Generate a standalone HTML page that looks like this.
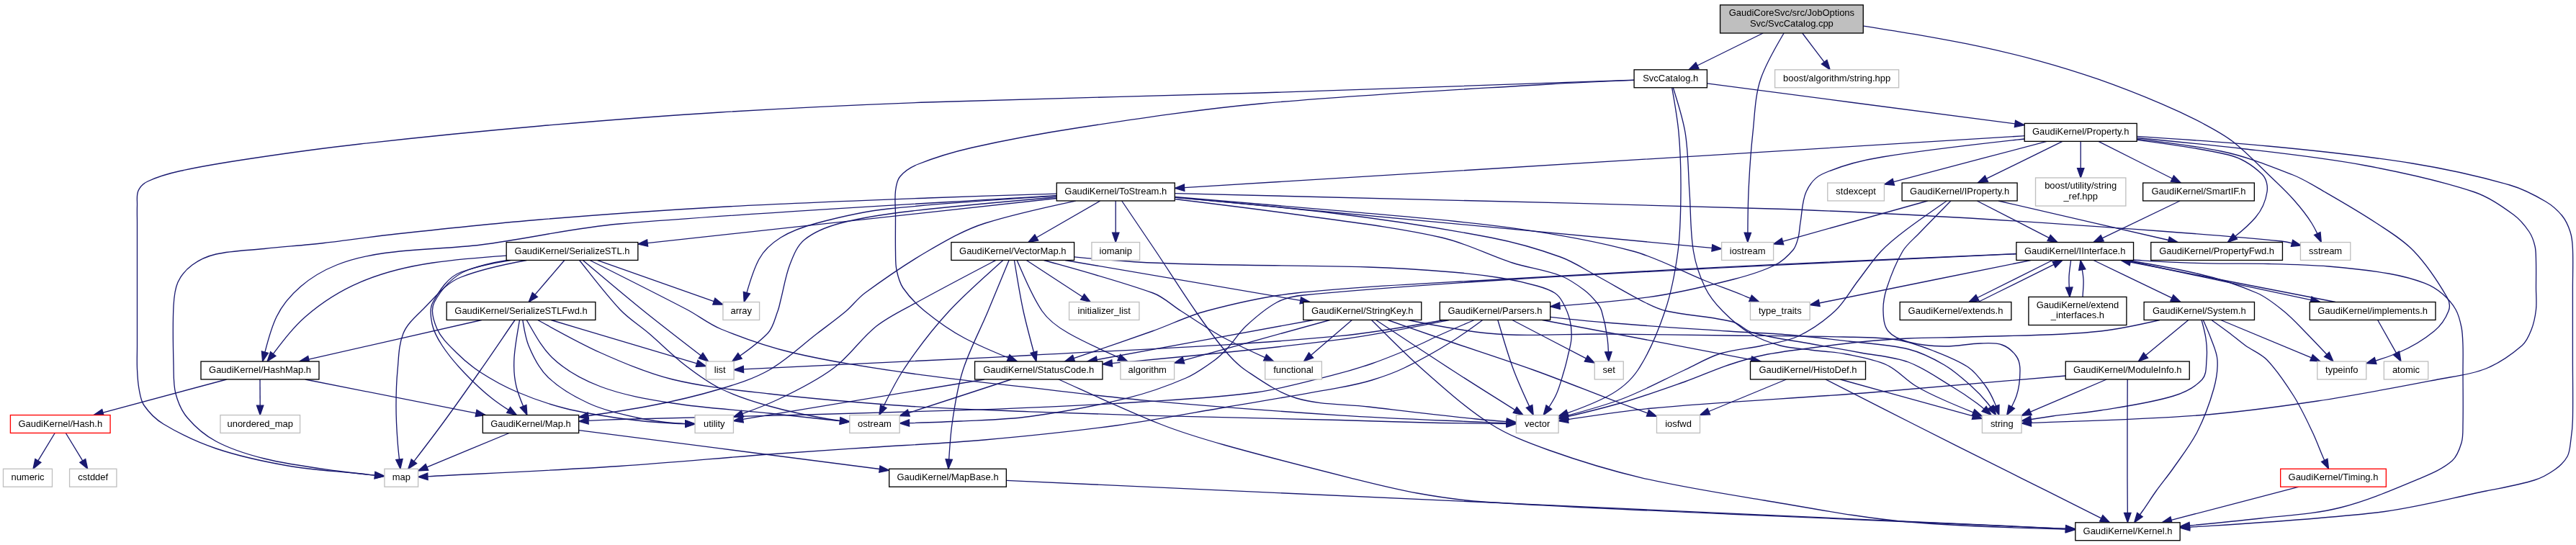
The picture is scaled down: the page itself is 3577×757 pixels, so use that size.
<!DOCTYPE html>
<html><head><meta charset="utf-8"><title>SvcCatalog.cpp include graph</title>
<style>html,body{margin:0;padding:0;background:#fff}svg{display:block;will-change:transform;transform:translateZ(0)}text{font-family:"Liberation Sans",Arial,Helvetica,sans-serif;font-size:13.33px;fill:#000;text-anchor:middle}
.e path{fill:none;stroke:#191970;stroke-width:1.33}.e polygon{fill:#191970;stroke:#191970;stroke-width:1.33}
.n rect{stroke-width:1.33}</style></head><body>
<svg width="3577" height="757" viewBox="0 0 3577 757">
<rect width="3577" height="757" fill="#fff"/>
<g class="e">
<path d="M2477.1,46.0C2465.2,66.6 2452.7,86.9 2445.0,109.3C2436.9,133.1 2436.7,158.9 2434.0,183.9C2431.0,211.3 2429.2,238.9 2428.0,266.5C2427.2,285.4 2427.0,304.3 2426.9,323.2"/>
<polygon points="2422.2,323.2 2426.8,336.5 2431.5,323.3"/>
<path d="M2587.5,36.2C2612.8,40.3 2638.2,44.0 2663.5,48.4C2691.4,53.3 2719.3,58.2 2747.0,64.2C2775.0,70.2 2802.8,76.7 2830.4,84.3C2858.5,92.0 2886.5,100.6 2914.0,110.2C2943.6,120.6 2972.8,132.1 3001.7,144.3C3021.5,152.7 3041.0,161.9 3060.0,172.0C3074.1,179.5 3088.4,187.1 3101.0,197.0C3118.9,211.1 3134.6,227.8 3151.0,243.5C3162.4,254.4 3174.1,265.2 3184.6,277.0C3193.8,287.4 3202.7,298.2 3210.0,310.0C3212.9,314.7 3215.4,319.5 3217.8,324.4"/>
<polygon points="3213.5,326.4 3223.3,336.5 3222.0,322.5"/>
<path d="M2502.7,46.0C2512.8,59.4 2523.0,72.8 2533.1,86.2"/>
<polygon points="2529.4,89.0 2541.2,96.8 2536.9,83.4"/>
<path d="M2448.2,46.0C2417.8,61.0 2387.4,76.0 2357.0,91.0"/>
<polygon points="2354.9,86.8 2345.0,96.8 2359.0,95.1"/>
<path d="M2323.3,121.8C2329.5,142.3 2336.5,162.7 2340.0,183.9C2344.5,211.1 2344.1,239.0 2346.0,266.5C2347.9,294.0 2347.0,321.8 2351.5,349.0C2354.4,366.6 2360.2,383.9 2368.0,400.0C2373.8,412.0 2382.6,422.5 2392.0,432.0C2403.5,443.7 2416.0,454.6 2430.0,463.0C2443.0,470.8 2457.4,476.0 2472.0,480.0C2485.6,483.7 2500.0,484.2 2514.0,486.0C2530.6,488.2 2547.5,488.7 2564.0,492.0C2583.0,495.8 2602.4,498.9 2620.0,507.0C2635.0,513.9 2646.0,527.4 2660.0,536.0C2672.7,543.8 2686.4,550.0 2700.0,556.0C2713.2,561.9 2726.6,567.4 2740.1,572.9"/>
<polygon points="2738.3,577.2 2752.4,577.9 2741.8,568.5"/>
<path d="M2321.7,121.8C2325.2,142.4 2329.1,163.0 2331.0,183.9C2333.5,211.3 2334.2,238.9 2334.0,266.5C2333.8,294.0 2333.6,321.7 2330.0,349.0C2326.3,377.1 2321.1,405.2 2312.0,432.0C2302.3,460.7 2290.8,489.3 2274.0,514.5C2263.9,529.5 2248.9,541.5 2233.0,550.0C2215.0,559.6 2195.9,566.8 2176.6,573.7"/>
<polygon points="2175.1,569.3 2164.1,578.1 2178.2,578.1"/>
<path d="M2269.1,111.1C2096.1,117.1 1923.0,123.5 1750.0,129.0C1596.0,133.9 1442.0,136.5 1288.0,142.0C1191.9,145.5 1095.9,150.1 1000.0,156.0C916.6,161.1 833.3,167.7 750.0,175.0C666.6,182.3 583.2,190.6 500.0,200.0C449.9,205.6 399.9,212.5 350.0,220.0C316.5,225.0 283.0,230.2 250.0,237.5C234.6,240.9 219.2,245.2 205.0,252.0C199.5,254.6 194.5,259.4 192.0,265.0C189.3,271.1 190.7,278.3 190.5,285.0C190.2,293.3 190.5,301.7 190.5,310.0C190.5,323.0 190.5,336.0 190.5,349.0C190.5,376.7 190.5,404.3 190.5,432.0C190.5,448.0 190.5,464.0 190.5,480.0C190.5,491.0 190.0,502.0 190.5,513.0C190.9,522.0 191.3,531.1 193.0,540.0C194.5,547.9 195.4,556.4 200.0,563.0C207.1,573.3 216.3,582.6 227.0,589.0C250.0,602.8 274.5,614.5 300.0,623.0C332.5,633.9 366.2,641.1 400.0,647.0C433.0,652.8 466.7,654.4 500.0,658.0C506.9,658.7 513.8,659.4 520.6,660.1"/>
<polygon points="520.2,664.8 533.9,661.4 521.1,655.5"/>
<path d="M2269.1,111.4C2229.4,113.0 2189.7,114.6 2150.0,117.0C2016.6,125.1 1883.1,131.7 1750.0,144.0C1666.3,151.7 1583.1,164.3 1500.0,177.0C1449.7,184.7 1399.6,193.8 1350.0,205.0C1324.5,210.8 1299.3,218.3 1275.0,228.0C1265.6,231.7 1256.5,237.3 1250.0,245.0C1245.5,250.3 1244.3,258.0 1243.5,265.0C1242.1,276.6 1243.5,288.3 1243.5,300.0C1243.5,316.3 1243.2,332.7 1243.5,349.0C1243.7,357.7 1243.2,366.5 1245.0,375.0C1246.8,383.7 1249.0,392.7 1254.0,400.0C1262.3,412.1 1272.7,422.8 1284.0,432.0C1301.5,446.2 1320.0,459.6 1340.0,470.0C1359.5,480.2 1379.8,488.7 1400.1,497.0"/>
<polygon points="1398.4,501.3 1412.5,502.0 1401.9,492.7"/>
<path d="M2370.4,115.9C2512.9,134.6 2655.5,153.3 2798.0,171.9"/>
<polygon points="2797.4,176.6 2811.2,173.7 2798.6,167.3"/>
<path d="M1404.2,527.0C1356.7,542.5 1309.3,558.0 1261.8,573.5"/>
<polygon points="1260.4,569.1 1249.2,577.7 1263.3,578.0"/>
<path d="M1367.0,527.0C1255.2,545.4 1143.4,563.9 1031.6,582.4"/>
<polygon points="1030.8,577.8 1018.4,584.6 1032.3,587.0"/>
<path d="M1470.1,527.0C1516.9,548.1 1563.4,569.9 1611.0,589.0C1640.0,600.6 1670.0,609.5 1700.0,618.0C1758.0,634.4 1816.5,649.1 1875.0,663.8C1905.8,671.5 1936.7,679.4 1968.0,685.0C1998.4,690.5 2029.1,694.9 2060.0,697.0C2173.2,704.6 2286.6,708.7 2400.0,714.0C2500.0,718.7 2600.0,722.6 2700.0,727.0C2756.2,729.5 2812.3,731.9 2868.5,734.4"/>
<polygon points="2868.3,739.1 2881.8,735.0 2868.7,729.8"/>
<path d="M2967.2,191.5C3017.5,196.3 3067.8,201.2 3118.0,207.0C3173.8,213.5 3229.8,219.6 3285.0,230.0C3335.6,239.5 3386.2,250.3 3435.0,266.5C3455.1,273.2 3472.9,285.6 3490.0,298.0C3498.8,304.3 3505.9,313.0 3512.0,322.0C3516.0,327.9 3518.4,335.0 3520.0,342.0C3521.6,348.8 3521.3,356.0 3521.5,363.0C3521.8,375.3 3521.5,387.7 3521.5,400.0C3521.5,410.0 3522.6,420.1 3521.5,430.0C3520.4,439.5 3518.5,449.1 3515.0,458.0C3511.9,465.9 3508.5,474.5 3502.0,480.0C3487.0,492.9 3470.4,504.6 3452.0,512.0C3430.8,520.5 3407.5,522.7 3385.0,527.0C3329.5,537.7 3273.9,548.6 3218.0,557.0C3162.6,565.3 3106.9,572.9 3051.0,577.0C2974.3,582.6 2897.3,584.5 2820.4,587.4"/>
<polygon points="2820.2,582.7 2807.1,587.9 2820.6,592.0"/>
<path d="M2967.2,189.3C3028.2,193.3 3089.2,197.3 3150.0,203.0C3216.9,209.3 3283.7,216.3 3350.0,227.0C3395.5,234.3 3440.7,244.3 3485.0,257.0C3502.6,262.1 3519.2,270.7 3535.0,280.0C3543.8,285.2 3551.6,292.1 3558.0,300.0C3563.2,306.4 3566.5,314.2 3569.0,322.0C3571.4,329.4 3572.1,337.3 3572.4,345.0C3573.2,363.3 3572.4,381.7 3572.4,400.0C3572.4,433.3 3572.4,466.7 3572.4,500.0C3572.4,527.7 3573.0,555.3 3572.4,583.0C3572.2,592.0 3571.3,601.1 3570.0,610.0C3568.8,618.1 3568.8,626.8 3565.0,634.0C3561.2,641.3 3554.7,647.2 3548.0,652.0C3539.2,658.3 3529.4,663.8 3519.0,667.0C3497.2,673.8 3474.4,677.4 3452.0,682.0C3401.4,692.4 3351.3,706.2 3300.0,712.0C3213.8,721.7 3127.1,726.7 3040.5,732.3"/>
<polygon points="3040.2,727.7 3027.2,733.2 3040.8,737.0"/>
<path d="M2842.2,196.4C2771.2,215.1 2700.3,233.9 2629.3,252.7"/>
<polygon points="2628.1,248.2 2616.4,256.1 2630.5,257.2"/>
<path d="M2967.2,193.1C3006.3,197.5 3045.4,202.3 3084.0,210.0C3118.4,216.9 3151.3,230.2 3184.0,243.0C3199.5,249.1 3213.6,258.2 3228.0,266.5C3252.3,280.5 3276.7,294.5 3300.0,310.0C3318.0,322.0 3337.1,333.3 3352.0,349.0C3370.1,368.0 3384.8,390.3 3398.0,413.0C3401.2,418.5 3402.3,426.1 3400.0,432.0C3395.9,442.7 3388.8,452.7 3380.0,460.0C3365.0,472.4 3347.9,482.4 3330.0,490.0C3319.8,494.3 3309.2,497.9 3298.6,501.1"/>
<polygon points="3297.3,496.6 3285.8,504.7 3299.9,505.5"/>
<path d="M2967.2,194.3C3009.8,199.7 3052.3,205.4 3094.0,215.0C3111.6,219.1 3127.9,229.5 3141.0,242.0C3147.1,247.9 3149.3,258.1 3148.0,266.5C3146.1,279.3 3140.4,292.1 3132.0,302.0C3123.7,311.8 3113.8,320.2 3103.7,328.3"/>
<polygon points="3100.8,324.6 3093.3,336.5 3106.6,331.9"/>
<path d="M2811.2,193.0C2745.3,200.3 2679.4,207.4 2614.0,218.0C2585.3,222.6 2556.5,229.9 2530.0,242.0C2520.0,246.6 2512.5,256.5 2508.0,266.5C2502.1,279.7 2502.5,294.8 2500.0,309.0C2498.8,316.0 2498.8,323.2 2497.0,330.0C2495.4,335.9 2493.9,342.3 2490.0,347.0C2483.0,355.3 2474.8,363.2 2465.0,368.0C2446.7,377.1 2426.8,382.9 2407.0,388.0C2368.4,397.8 2329.5,407.3 2290.0,412.6C2248.8,418.1 2207.4,421.6 2166.0,424.8"/>
<polygon points="2165.6,420.1 2152.7,425.8 2166.3,429.4"/>
<path d="M2811.2,188.7C2422.3,212.7 2033.4,236.7 1644.6,260.6"/>
<polygon points="1644.3,256.0 1631.3,261.4 1644.8,265.3"/>
<path d="M2913.9,196.4C2948.1,213.6 2982.2,230.8 3016.4,248.0"/>
<polygon points="3014.3,252.2 3028.3,254.0 3018.5,243.9"/>
<path d="M2863.9,196.4C2828.7,213.6 2793.6,230.9 2758.4,248.2"/>
<polygon points="2756.3,244.0 2746.4,254.0 2760.5,252.4"/>
<path d="M2889.2,196.4C2889.2,208.8 2889.2,221.2 2889.2,233.6"/>
<polygon points="2884.5,233.6 2889.2,246.9 2893.9,233.6"/>
<path d="M2152.7,440.3C2178.4,443.1 2204.2,445.8 2230.0,448.0C2286.6,452.9 2343.3,456.2 2400.0,460.0C2427.7,461.9 2455.4,462.7 2483.0,465.0C2511.1,467.4 2539.0,470.7 2567.0,474.0C2594.7,477.3 2622.9,478.3 2650.0,485.0C2667.7,489.4 2684.3,497.8 2700.0,507.0C2713.5,514.9 2725.3,525.6 2737.0,536.0C2745.3,543.3 2753.0,551.4 2760.0,560.0C2761.4,561.8 2762.8,563.6 2764.2,565.5"/>
<polygon points="2760.3,568.1 2771.6,576.5 2768.0,562.9"/>
<path d="M2079.8,444.5C2086.9,467.9 2093.4,491.6 2102.0,514.5C2108.4,531.5 2116.0,548.0 2123.6,564.4"/>
<polygon points="2119.3,566.4 2129.2,576.5 2127.8,562.5"/>
<path d="M2058.7,444.5C2044.4,455.0 2030.1,465.6 2015.0,475.0C1994.0,488.2 1972.3,500.2 1950.0,511.0C1935.6,518.0 1920.3,523.3 1905.0,528.0C1890.3,532.5 1875.1,535.6 1860.0,538.4C1808.6,547.9 1757.0,556.3 1705.5,565.0C1653.7,573.8 1602.1,583.9 1550.0,591.0C1489.2,599.3 1428.1,605.6 1367.0,611.0C1311.4,615.9 1255.7,618.3 1200.0,622.0C1156.0,624.9 1112.0,627.7 1068.0,631.0C998.6,636.2 929.4,643.0 860.0,647.5C771.4,653.2 682.6,657.2 593.9,661.8"/>
<polygon points="593.7,657.2 580.6,662.5 594.1,666.5"/>
<path d="M2012.2,444.5C1961.6,454.6 1911.1,465.0 1860.0,471.7C1755.0,485.4 1649.6,494.7 1544.2,504.6"/>
<polygon points="1543.8,499.9 1530.9,505.8 1544.6,509.2"/>
<path d="M2005.0,444.5C1956.8,453.2 1908.7,462.1 1860.0,466.7C1717.0,480.3 1573.4,485.5 1430.0,493.5C1297.5,500.9 1164.9,506.6 1032.4,512.9"/>
<polygon points="1032.2,508.3 1019.1,513.6 1032.6,517.6"/>
<path d="M2099.9,444.5C2134.1,462.3 2168.2,480.1 2202.4,497.9"/>
<polygon points="2200.3,502.0 2214.2,504.1 2204.6,493.8"/>
<path d="M2141.6,444.5C2238.3,462.8 2335.1,481.2 2431.8,499.6"/>
<polygon points="2431.0,504.1 2444.9,502.0 2432.7,495.0"/>
<path d="M2047.2,444.5C2031.4,451.2 2015.7,458.0 2000.0,465.0C1989.2,469.8 1978.9,475.4 1968.0,480.0C1947.2,488.8 1926.3,497.6 1905.0,505.0C1886.5,511.4 1867.6,516.9 1848.6,521.6C1814.1,530.2 1779.7,540.1 1744.5,545.0C1692.8,552.2 1640.5,554.7 1588.4,558.0C1519.0,562.5 1449.5,565.7 1380.0,568.4C1293.4,571.7 1206.7,573.6 1120.0,576.0C1033.3,578.3 946.6,579.6 860.0,582.5C845.7,583.0 831.3,583.7 817.0,584.4"/>
<polygon points="816.7,579.8 803.7,585.2 817.2,589.1"/>
<path d="M2555.5,527.0C2616.9,543.9 2678.2,560.9 2739.6,577.9"/>
<polygon points="2738.3,582.4 2752.4,581.4 2740.8,573.4"/>
<path d="M2535.0,527.0C2575.6,547.7 2616.3,568.4 2657.0,589.0C2706.6,614.1 2756.3,638.8 2806.0,663.8C2843.3,682.4 2880.5,701.1 2917.8,719.8"/>
<polygon points="2915.7,724.0 2929.7,725.8 2919.9,715.6"/>
<path d="M2480.4,527.0C2444.6,541.8 2408.7,556.6 2372.8,571.5"/>
<polygon points="2371.0,567.2 2360.5,576.6 2374.6,575.8"/>
<path d="M707.1,601.5C669.0,617.3 631.0,633.1 592.9,648.9"/>
<polygon points="591.1,644.6 580.6,654.0 594.7,653.2"/>
<path d="M803.7,597.6C942.9,615.6 1082.2,633.6 1221.4,651.5"/>
<polygon points="1220.8,656.2 1234.7,653.2 1222.0,646.9"/>
<path d="M1397.3,667.4C1887.7,689.7 2378.1,712.0 2868.5,734.3"/>
<polygon points="2868.3,739.0 2881.8,734.9 2868.7,729.7"/>
<path d="M1631.3,274.2C1879.9,297.6 2128.6,321.0 2377.3,344.4"/>
<polygon points="2376.9,349.0 2390.6,345.6 2377.8,339.7"/>
<path d="M1631.3,268.6C1907.5,275.5 2183.8,281.6 2460.0,290.0C2545.7,292.6 2631.4,297.1 2717.0,302.0C2811.4,307.4 2905.7,314.1 3000.0,321.0C3056.0,325.1 3112.1,329.3 3168.0,335.0C3172.9,335.5 3177.7,336.6 3182.6,337.8"/>
<polygon points="3181.4,342.3 3195.5,341.0 3183.7,333.3"/>
<path d="M1631.3,274.2C1704.2,280.8 1777.3,287.1 1850.0,296.0C1923.7,305.0 1997.1,316.0 2070.0,330.0C2103.0,336.3 2135.4,345.6 2167.0,357.0C2184.7,363.4 2200.5,374.1 2217.0,383.0C2239.5,395.1 2261.2,408.5 2284.0,420.0C2293.6,424.9 2303.5,429.7 2314.0,432.0C2344.3,438.7 2375.9,439.4 2406.0,447.0C2416.0,449.5 2423.1,459.2 2433.0,462.0C2460.5,469.7 2489.0,472.8 2517.0,478.0C2539.3,482.1 2561.7,485.8 2584.0,490.0C2606.0,494.1 2629.0,495.3 2650.0,503.0C2671.1,510.8 2689.7,524.4 2709.0,536.0C2721.4,543.4 2733.5,551.4 2745.0,560.0C2748.4,562.6 2751.8,565.2 2755.0,567.9"/>
<polygon points="2752.0,571.5 2765.2,576.5 2758.1,564.4"/>
<path d="M1557.7,279.0C1573.5,302.3 1589.3,325.6 1605.0,349.0C1623.5,376.6 1641.0,404.8 1660.0,432.0C1673.1,450.8 1686.2,469.6 1701.0,487.0C1709.6,497.2 1718.9,507.1 1730.0,514.5C1752.2,529.3 1774.5,545.4 1800.0,553.0C1832.2,562.6 1866.7,561.1 1900.0,565.0C1950.0,570.8 1999.9,576.9 2050.0,582.0C2064.0,583.4 2078.1,584.6 2092.1,585.7"/>
<polygon points="2091.8,590.3 2105.4,586.7 2092.5,581.0"/>
<path d="M1467.2,269.1C1407.5,270.9 1347.7,272.7 1288.0,275.0C1192.0,278.7 1095.9,282.2 1000.0,287.5C916.6,292.2 833.2,298.1 750.0,305.0C683.2,310.6 616.6,317.8 550.0,325.0C516.6,328.6 483.4,333.8 450.0,337.5C422.4,340.6 394.6,342.6 367.0,345.5C344.6,347.8 321.9,348.1 300.0,353.0C288.2,355.7 276.7,360.8 267.0,368.0C258.6,374.2 251.3,382.5 247.0,392.0C242.4,402.2 241.6,413.8 241.0,425.0C239.6,452.3 240.3,479.7 241.0,507.0C241.3,520.4 240.6,534.1 244.0,547.0C247.1,558.8 252.1,570.7 260.0,580.0C271.2,593.2 284.7,604.9 300.0,613.0C320.9,624.2 344.0,631.3 367.0,637.0C399.8,645.1 433.5,649.3 467.0,654.0C484.8,656.5 502.7,658.3 520.6,660.1"/>
<polygon points="520.2,664.7 533.9,661.4 521.1,655.4"/>
<path d="M1467.2,273.9C1400.4,279.7 1333.6,285.4 1267.0,293.0C1233.4,296.8 1199.7,301.3 1167.0,310.0C1149.3,314.7 1131.2,321.4 1117.0,333.0C1106.8,341.3 1101.8,354.8 1097.0,367.0C1090.7,383.0 1088.4,400.3 1084.0,417.0C1082.7,422.0 1081.9,427.2 1080.0,432.0C1075.9,442.6 1073.9,454.9 1066.0,463.0C1054.5,474.9 1041.1,484.7 1027.5,494.3"/>
<polygon points="1024.8,490.5 1016.6,502.0 1030.2,498.2"/>
<path d="M1631.3,276.5C1687.5,283.3 1743.8,290.1 1800.0,298.0C1867.5,307.5 1935.5,315.1 2002.0,330.0C2035.9,337.6 2067.0,354.4 2100.0,365.0C2122.0,372.1 2145.4,374.8 2167.0,383.0C2179.0,387.6 2189.7,395.3 2200.0,403.0C2206.4,407.8 2211.9,413.8 2217.0,420.0C2220.0,423.6 2222.7,427.6 2224.0,432.0C2227.7,444.4 2230.4,457.2 2232.0,470.0C2232.8,476.2 2233.2,482.5 2233.4,488.7"/>
<polygon points="2228.7,488.9 2233.8,502.0 2238.1,488.6"/>
<path d="M1493.7,279.0C1451.5,288.1 1409.2,297.0 1368.0,310.0C1339.7,318.9 1313.7,334.1 1288.0,349.0C1257.9,366.5 1229.1,386.4 1201.0,407.0C1191.3,414.1 1184.2,424.2 1175.0,432.0C1162.1,442.9 1148.4,452.7 1135.0,463.0C1112.7,480.1 1092.3,500.0 1068.0,514.0C1047.2,525.9 1023.9,533.1 1001.0,540.0C968.2,549.8 934.7,557.7 901.0,564.0C873.1,569.2 845.0,573.4 816.9,577.5"/>
<polygon points="816.2,572.9 803.7,579.4 817.5,582.1"/>
<path d="M1549.2,279.0C1549.2,293.7 1549.2,308.5 1549.2,323.2"/>
<polygon points="1544.6,323.2 1549.2,336.5 1553.9,323.2"/>
<path d="M1467.2,272.1C1389.4,277.2 1311.6,281.9 1234.0,290.0C1200.2,293.5 1166.8,301.2 1134.0,310.0C1116.7,314.6 1099.2,320.5 1084.0,330.0C1072.0,337.5 1060.7,347.5 1054.0,360.0C1046.1,374.6 1041.5,390.7 1036.9,406.7"/>
<polygon points="1032.4,405.4 1033.2,419.5 1041.4,408.0"/>
<path d="M1631.3,273.3C1709.9,279.8 1788.5,286.2 1867.0,293.4C1945.1,300.5 2023.4,306.0 2101.0,316.8C2157.2,324.6 2213.3,334.0 2268.0,349.0C2302.7,358.5 2334.6,376.6 2368.0,390.0C2385.2,396.9 2402.8,403.0 2420.0,410.0C2423.5,411.4 2427.0,412.9 2430.6,414.3"/>
<polygon points="2428.7,418.6 2442.8,419.5 2432.4,410.0"/>
<path d="M1467.2,271.6C1264.8,284.0 1062.1,294.1 860.0,311.0C795.5,316.4 732.2,332.0 668.0,340.0C623.5,345.5 578.4,345.3 534.0,351.5C511.4,354.7 488.8,359.5 467.6,368.0C449.5,375.2 432.2,385.3 417.5,398.0C403.9,409.7 391.8,423.9 384.0,440.0C376.5,455.5 372.2,472.3 367.9,489.1"/>
<polygon points="363.4,488.0 364.6,502.0 372.4,490.3"/>
<path d="M1527.7,279.0C1498.2,295.9 1468.8,312.9 1439.4,329.9"/>
<polygon points="1437.0,325.8 1427.8,336.5 1441.7,333.9"/>
<path d="M1467.2,275.5C1277.9,296.2 1088.5,316.9 899.1,337.6"/>
<polygon points="898.6,332.9 885.8,339.0 899.6,342.2"/>
<path d="M423.8,527.0C502.9,542.6 582.0,558.3 661.1,574.0"/>
<polygon points="660.2,578.5 674.2,576.5 662.0,569.4"/>
<path d="M314.7,527.0C257.4,542.3 200.2,557.7 143.0,573.1"/>
<polygon points="141.7,568.6 130.1,576.5 144.2,577.6"/>
<path d="M361.0,527.0C361.1,539.0 361.1,551.1 361.2,563.2"/>
<polygon points="356.5,563.2 361.2,576.5 365.8,563.2"/>
<path d="M91.3,601.5C99.1,614.3 106.9,627.1 114.7,639.9"/>
<polygon points="110.8,642.3 121.7,651.3 118.7,637.5"/>
<path d="M76.2,601.5C68.5,614.3 60.7,627.1 52.9,639.9"/>
<polygon points="48.9,637.5 46.0,651.3 56.9,642.3"/>
<path d="M1491.6,356.8C1527.7,360.2 1563.8,363.4 1600.0,365.0C1699.9,369.5 1800.0,367.9 1900.0,371.0C1939.1,372.2 1978.1,374.8 2017.0,378.0C2039.4,379.8 2061.8,382.4 2084.0,386.0C2100.8,388.7 2117.6,392.4 2134.0,397.0C2142.6,399.4 2151.4,402.2 2159.0,407.0C2163.8,410.1 2167.3,415.0 2170.0,420.0C2174.3,427.9 2177.9,436.3 2180.0,445.0C2182.0,453.1 2182.5,461.7 2182.0,470.0C2181.5,478.5 2178.9,486.7 2177.0,495.0C2175.5,501.5 2174.0,508.1 2172.0,514.5C2168.3,526.4 2165.6,538.8 2160.0,550.0C2157.3,555.4 2154.1,560.5 2150.8,565.6"/>
<polygon points="2147.0,562.9 2143.2,576.5 2154.7,568.2"/>
<path d="M1408.4,361.5C1412.4,385.0 1415.9,408.7 1421.0,432.0C1425.2,451.2 1430.4,470.2 1435.5,489.2"/>
<polygon points="1431.0,490.4 1439.0,502.0 1440.0,488.0"/>
<path d="M1392.8,361.5C1367.4,384.5 1341.2,406.8 1318.0,432.0C1294.4,457.6 1273.2,485.4 1254.0,514.5C1243.5,530.4 1235.2,547.5 1226.8,564.6"/>
<polygon points="1222.6,562.5 1220.9,576.5 1231.0,566.7"/>
<path d="M1382.8,361.5C1346.1,380.8 1309.3,400.0 1273.0,420.0C1254.0,430.4 1234.0,439.6 1217.0,453.0C1195.4,470.1 1180.1,494.5 1158.0,511.0C1134.1,528.8 1107.0,542.3 1080.0,555.0C1064.0,562.5 1047.6,568.7 1031.0,574.7"/>
<polygon points="1029.4,570.3 1018.4,579.2 1032.5,579.1"/>
<path d="M1401.1,361.5C1391.4,385.0 1381.8,408.5 1372.0,432.0C1360.5,459.6 1346.1,486.0 1337.0,514.5C1329.3,538.6 1325.5,563.9 1322.0,589.0C1319.7,605.2 1318.7,621.6 1317.7,638.0"/>
<polygon points="1313.1,637.7 1316.9,651.3 1322.4,638.3"/>
<path d="M1449.5,361.5C1500.3,375.7 1551.3,389.3 1601.0,407.0C1615.6,412.2 1626.9,423.8 1640.0,432.0C1660.3,444.8 1679.8,458.8 1701.0,470.0C1719.2,479.6 1737.8,488.2 1756.6,496.6"/>
<polygon points="1754.6,500.8 1768.7,502.0 1758.5,492.3"/>
<path d="M1412.1,361.5C1422.9,385.4 1432.2,410.3 1447.0,432.0C1456.1,445.3 1470.0,455.1 1484.0,463.0C1506.5,475.7 1530.1,486.2 1553.7,496.7"/>
<polygon points="1551.8,500.9 1565.9,502.0 1555.6,492.4"/>
<path d="M1425.3,361.5C1451.2,378.4 1477.1,395.3 1503.0,412.3"/>
<polygon points="1500.5,416.2 1514.2,419.5 1505.6,408.3"/>
<path d="M1479.1,361.5C1588.0,380.1 1696.9,398.7 1805.8,417.3"/>
<polygon points="1805.0,421.9 1818.9,419.5 1806.6,412.7"/>
<path d="M1955.2,444.5C1992.3,452.0 2029.4,459.4 2067.0,463.0C2121.1,468.1 2175.7,463.5 2230.0,464.0C2286.7,464.5 2343.3,465.3 2400.0,466.0C2453.3,466.6 2506.7,466.6 2560.0,468.0C2584.7,468.6 2609.6,468.3 2634.0,472.0C2651.2,474.6 2667.8,480.8 2684.0,487.0C2700.8,493.5 2718.0,499.9 2733.0,510.0C2742.8,516.6 2750.0,526.5 2757.0,536.0C2762.4,543.3 2766.4,551.6 2770.0,560.0C2770.6,561.3 2771.1,562.6 2771.6,563.9"/>
<polygon points="2767.2,565.4 2775.8,576.5 2776.0,562.4"/>
<path d="M1910.6,444.5C1946.0,467.9 1981.3,491.5 2017.0,514.5C2045.7,533.1 2074.8,551.2 2103.7,569.5"/>
<polygon points="2101.2,573.4 2115.0,576.5 2106.2,565.5"/>
<path d="M1823.9,444.5C1723.7,462.8 1623.4,481.2 1523.2,499.6"/>
<polygon points="1522.4,495.1 1510.1,502.0 1524.0,504.2"/>
<path d="M1904.5,444.5C1928.4,468.1 1951.8,492.3 1977.0,514.5C2006.8,540.8 2036.5,567.6 2070.0,589.0C2094.6,604.7 2122.5,615.2 2150.0,625.0C2192.6,640.2 2236.0,653.5 2280.0,663.8C2336.1,676.8 2393.2,685.6 2450.0,695.0C2516.5,706.0 2582.8,719.2 2650.0,725.0C2722.7,731.2 2795.6,733.1 2868.5,735.2"/>
<polygon points="2868.4,739.9 2881.8,735.6 2868.6,730.6"/>
<path d="M1927.1,444.5C1951.4,453.0 1975.7,461.6 2000.0,470.0C2043.6,485.0 2087.6,498.9 2131.0,514.5C2171.0,528.9 2210.2,545.1 2250.0,560.0C2262.6,564.7 2275.3,569.3 2287.9,573.8"/>
<polygon points="2286.4,578.2 2300.5,578.3 2289.5,569.4"/>
<path d="M1877.3,444.5C1858.4,460.7 1839.5,477.0 1820.6,493.3"/>
<polygon points="1817.5,489.8 1810.4,502.0 1823.6,496.9"/>
<path d="M1846.7,444.5C1778.9,463.2 1711.2,481.9 1643.4,500.6"/>
<polygon points="1642.2,496.1 1630.6,504.2 1644.7,505.1"/>
<path d="M819.1,361.5C864.1,384.2 909.3,406.6 954.0,430.0C970.0,438.4 984.3,450.2 1001.0,457.0C1033.5,470.3 1066.8,482.0 1101.0,490.0C1153.4,502.3 1206.8,510.2 1260.0,518.0C1316.5,526.3 1373.3,531.9 1430.0,538.4C1485.6,544.8 1541.2,551.8 1597.0,556.8C1684.6,564.6 1772.3,571.1 1860.0,576.8C1923.3,580.9 1986.7,583.2 2050.0,586.0C2064.0,586.6 2078.1,587.1 2092.1,587.6"/>
<polygon points="2091.9,592.3 2105.4,588.0 2092.2,582.9"/>
<path d="M731.3,361.5C700.3,367.2 669.3,373.5 640.0,385.0C618.4,393.4 603.6,413.8 587.0,430.0C576.8,439.9 565.4,449.9 560.0,463.0C553.4,479.1 553.7,497.2 552.0,514.5C550.4,530.9 550.0,547.5 550.0,564.0C550.0,580.0 550.8,596.0 552.0,612.0C552.6,620.7 553.5,629.4 554.5,638.0"/>
<polygon points="549.8,638.6 555.9,651.3 559.1,637.5"/>
<path d="M804.6,361.5C823.0,384.6 840.8,408.4 861.0,430.0C872.8,442.6 887.9,451.8 901.0,463.0C917.9,477.4 933.4,493.5 951.0,507.0C966.8,519.2 983.0,531.3 1001.0,540.0C1022.3,550.4 1045.2,557.6 1068.0,564.0C1094.9,571.6 1122.4,577.3 1150.0,582.0C1155.5,582.9 1161.0,583.7 1166.6,584.4"/>
<polygon points="1166.1,589.0 1179.8,585.8 1167.1,579.7"/>
<path d="M704.0,361.5C685.6,364.5 667.5,368.5 650.0,375.0C629.7,382.5 613.1,400.8 603.0,420.0C597.2,431.0 602.0,445.7 607.0,457.0C612.8,470.0 624.0,480.0 634.0,490.0C644.0,500.0 655.1,509.2 667.0,517.0C682.9,527.3 699.6,536.6 717.0,544.0C738.7,553.3 761.1,561.2 784.0,567.0C811.6,573.9 839.8,578.1 868.0,582.0C889.9,585.1 911.9,586.8 934.0,588.0C939.9,588.3 945.8,588.5 951.8,588.6"/>
<polygon points="951.7,593.3 965.1,588.8 951.8,584.0"/>
<path d="M809.4,361.5C837.5,385.1 865.4,408.9 894.0,432.0C920.1,453.0 946.7,473.4 973.2,493.9"/>
<polygon points="970.3,497.6 983.7,502.0 976.0,490.2"/>
<path d="M709.1,361.5C685.5,365.1 662.3,369.8 640.0,378.0C622.1,384.6 610.3,403.3 601.0,420.0C596.1,428.7 597.9,440.2 600.0,450.0C602.3,460.8 607.9,470.8 614.0,480.0C622.7,493.3 633.1,505.5 644.0,517.0C656.5,530.2 669.6,542.9 684.0,554.0C691.1,559.5 698.6,564.6 706.1,569.4"/>
<polygon points="703.7,573.4 717.4,576.5 708.6,565.5"/>
<path d="M829.7,361.5C883.6,380.5 937.5,399.5 991.3,418.6"/>
<polygon points="989.8,423.0 1003.9,423.0 992.9,414.2"/>
<path d="M703.2,355.1C669.0,357.4 634.9,360.1 601.0,365.0C566.9,370.0 532.8,378.1 501.0,391.6C473.1,403.4 446.8,420.0 424.0,440.0C406.9,455.0 393.2,473.3 379.3,491.5"/>
<polygon points="375.6,488.6 371.1,502.0 382.9,494.4"/>
<path d="M783.8,361.5C770.2,377.4 756.5,393.4 742.8,409.4"/>
<polygon points="739.3,406.4 734.2,419.5 746.4,412.5"/>
<path d="M746.7,444.5C775.5,460.2 804.1,476.5 834.0,490.0C866.4,504.6 899.5,518.6 934.0,527.0C977.9,537.7 1023.1,541.9 1068.0,547.0C1131.8,554.2 1195.9,559.6 1260.0,564.0C1316.6,567.9 1373.3,569.5 1430.0,571.8C1480.0,573.8 1530.0,575.4 1580.0,576.8C1673.3,579.3 1766.7,581.1 1860.0,583.5C1906.7,584.7 1953.3,586.6 2000.0,587.5C2030.7,588.1 2061.4,588.4 2092.1,588.6"/>
<polygon points="2092.0,593.3 2105.4,588.7 2092.1,583.9"/>
<path d="M715.0,444.5C699.0,467.8 683.2,491.3 667.0,514.5C649.6,539.5 632.1,564.4 614.0,589.0C601.2,606.4 588.0,623.6 574.9,640.7"/>
<polygon points="571.2,637.9 566.7,651.3 578.6,643.6"/>
<path d="M731.2,444.5C742.1,462.9 751.6,482.4 767.0,497.0C785.9,514.9 809.7,527.8 834.0,537.0C866.0,549.1 900.2,554.7 934.0,560.0C978.4,567.0 1023.3,569.2 1068.0,574.0C1095.3,576.9 1122.6,580.2 1150.0,583.0C1155.5,583.6 1161.0,584.1 1166.6,584.6"/>
<polygon points="1166.1,589.3 1179.8,585.9 1167.0,580.0"/>
<path d="M725.8,444.5C727.8,456.5 729.4,468.7 734.0,480.0C740.5,495.9 748.6,512.1 761.0,524.0C777.0,539.4 796.8,550.8 817.0,560.0C838.2,569.7 861.3,574.8 884.0,580.0C902.4,584.2 921.2,586.4 940.0,588.0C943.9,588.3 947.8,588.5 951.8,588.7"/>
<polygon points="951.7,593.3 965.1,588.9 951.8,584.0"/>
<path d="M765.2,444.5C832.7,464.6 900.2,484.8 967.6,504.9"/>
<polygon points="966.3,509.4 980.4,508.7 969.0,500.4"/>
<path d="M721.5,444.5C718.6,461.9 715.1,479.3 714.0,497.0C713.2,510.3 713.8,524.0 717.0,537.0C719.3,546.4 722.9,555.4 726.6,564.3"/>
<polygon points="722.3,566.1 731.9,576.5 730.9,562.5"/>
<path d="M668.8,444.5C588.8,462.7 508.7,480.9 428.7,499.1"/>
<polygon points="427.7,494.5 415.7,502.0 429.7,503.6"/>
<path d="M3027.1,279.0C2991.1,296.2 2955.1,313.5 2919.1,330.8"/>
<polygon points="2917.1,326.6 2907.1,336.5 2921.2,335.0"/>
<path d="M2799.9,352.5C2686.6,357.4 2573.3,362.1 2460.0,367.6C2340.3,373.4 2220.6,379.9 2101.0,387.0C2000.6,393.0 1900.0,396.4 1800.0,407.0C1757.7,411.5 1716.1,421.1 1675.0,432.0C1649.2,438.8 1625.2,451.1 1600.0,460.0C1563.8,472.8 1527.4,485.3 1491.1,497.7"/>
<polygon points="1489.6,493.3 1478.5,502.0 1492.6,502.1"/>
<path d="M2799.9,352.7C2686.6,357.9 2573.3,362.9 2460.0,368.6C2340.3,374.6 2220.6,380.4 2101.0,388.0C2003.9,394.2 1906.8,400.6 1810.0,410.0C1797.3,411.2 1784.3,414.0 1773.0,420.0C1757.1,428.6 1743.3,440.7 1730.0,453.0C1720.5,461.8 1713.8,473.4 1705.0,483.0C1699.4,489.1 1693.7,495.2 1687.0,500.0C1674.3,509.2 1661.4,518.8 1647.0,525.0C1620.0,536.7 1592.1,546.4 1563.6,553.4C1519.6,564.2 1474.9,572.3 1430.0,578.5C1398.2,582.9 1366.0,583.4 1334.0,585.0C1310.2,586.2 1286.3,586.9 1262.5,587.6"/>
<polygon points="1262.4,582.9 1249.2,587.9 1262.6,592.2"/>
<path d="M2962.5,361.0C2975.0,361.8 2987.5,362.8 3000.0,363.4C3022.3,364.4 3044.7,365.4 3067.0,365.9C3094.7,366.5 3122.3,365.8 3150.0,366.5C3177.8,367.2 3205.7,367.8 3233.5,370.0C3261.4,372.3 3289.4,375.2 3317.0,380.0C3334.0,383.0 3350.9,387.3 3367.0,393.4C3376.1,396.9 3384.6,402.2 3392.0,408.5C3399.1,414.6 3405.4,421.8 3410.0,430.0C3414.3,437.6 3416.3,446.4 3418.0,455.0C3419.6,463.2 3419.7,471.6 3420.0,480.0C3420.4,491.5 3420.0,503.0 3420.0,514.5C3420.0,539.3 3420.5,564.2 3420.0,589.0C3419.8,597.7 3420.5,606.7 3418.0,615.0C3415.3,624.0 3412.1,633.8 3405.0,640.0C3392.6,650.8 3377.1,657.4 3362.0,663.8C3325.3,679.1 3288.6,695.3 3250.0,705.0C3213.8,714.1 3176.1,715.8 3139.0,720.0C3106.2,723.7 3073.3,726.9 3040.4,730.0"/>
<polygon points="3040.0,725.4 3027.2,731.3 3040.9,734.7"/>
<path d="M2953.9,361.5C2986.4,366.9 3018.9,372.6 3051.0,380.0C3079.4,386.5 3107.3,395.4 3134.0,407.0C3147.7,412.9 3159.4,422.7 3171.0,432.0C3181.5,440.4 3190.6,450.4 3200.0,460.0C3210.4,470.6 3220.7,481.5 3230.9,492.3"/>
<polygon points="3227.5,495.5 3240.0,502.0 3234.3,489.1"/>
<path d="M2819.8,361.5C2721.9,381.3 2624.1,401.1 2526.2,421.0"/>
<polygon points="2525.3,416.4 2513.1,423.6 2527.1,425.5"/>
<path d="M2907.1,361.5C2943.4,378.9 2979.6,396.3 3015.9,413.8"/>
<polygon points="3013.9,418.0 3027.9,419.5 3017.9,409.6"/>
<path d="M2875.6,361.5C2874.7,369.3 2873.2,377.1 2873.0,385.0C2872.9,389.7 2873.0,394.5 2873.3,399.2"/>
<polygon points="2868.6,399.4 2874.0,412.5 2878.0,398.9"/>
<path d="M2950.8,361.5C3036.9,379.9 3122.9,398.3 3209.0,416.7"/>
<polygon points="3208.0,421.3 3222.0,419.5 3209.9,412.1"/>
<path d="M2850.0,361.5C2815.3,378.8 2780.6,396.2 2745.9,413.5"/>
<polygon points="2743.8,409.4 2734.0,419.5 2748.0,417.7"/>
<path d="M3057.1,444.5C3059.4,452.9 3061.7,461.4 3063.0,470.0C3064.5,479.9 3064.9,490.0 3064.0,500.0C3063.2,509.2 3064.2,520.2 3058.0,527.0C3047.6,538.3 3032.7,545.5 3018.0,550.0C2985.2,560.0 2950.9,564.4 2917.0,570.0C2894.8,573.7 2872.3,574.9 2850.0,578.0C2840.1,579.4 2830.2,580.9 2820.2,582.5"/>
<polygon points="2819.5,577.9 2807.1,584.6 2821.0,587.1"/>
<path d="M2999.0,444.5C2971.9,450.8 2944.7,456.9 2917.0,460.0C2856.3,466.8 2795.0,465.7 2734.0,468.0C2706.0,469.0 2678.0,468.7 2650.0,470.0C2627.6,471.0 2605.3,472.8 2583.0,475.0C2560.9,477.2 2539.0,480.0 2517.0,483.0C2494.6,486.0 2472.1,488.5 2450.0,493.0C2433.0,496.5 2416.4,501.5 2400.0,507.0C2379.7,513.8 2360.2,522.9 2340.0,530.0C2310.2,540.5 2280.4,551.3 2250.0,560.0C2225.9,566.9 2201.5,572.8 2177.0,578.7"/>
<polygon points="2176.0,574.2 2164.1,581.8 2178.1,583.2"/>
<path d="M3059.3,444.5C3063.0,452.9 3066.8,461.3 3070.0,470.0C3073.6,479.8 3078.4,489.6 3079.0,500.0C3079.8,513.4 3077.6,527.1 3074.0,540.0C3068.2,560.6 3060.7,580.9 3051.0,600.0C3041.9,617.8 3029.4,633.6 3018.0,650.0C3010.4,660.9 3001.8,671.2 2994.0,682.0C2987.4,691.2 2981.5,700.8 2975.0,710.0C2973.8,711.7 2972.6,713.3 2971.4,715.0"/>
<polygon points="2967.7,712.3 2963.6,725.8 2975.2,717.8"/>
<path d="M3083.7,444.5C3125.6,461.9 3167.6,479.4 3209.6,496.9"/>
<polygon points="3207.8,501.2 3221.9,502.0 3211.4,492.6"/>
<path d="M3071.0,444.5C3079.0,450.3 3087.1,456.1 3095.0,462.0C3102.8,467.8 3110.1,474.3 3118.0,480.0C3127.8,487.0 3139.7,491.3 3148.0,500.0C3162.3,515.0 3173.9,532.5 3185.0,550.0C3195.0,565.9 3202.9,583.0 3211.0,600.0C3217.1,612.8 3221.8,626.3 3227.7,639.3"/>
<polygon points="3223.5,641.4 3233.5,651.3 3231.9,637.3"/>
<path d="M3038.8,444.5C3019.0,460.8 2999.3,477.2 2979.5,493.5"/>
<polygon points="2976.6,489.9 2969.3,502.0 2982.5,497.1"/>
<path d="M3192.3,676.2C3133.2,691.6 3074.2,707.0 3015.1,722.4"/>
<polygon points="3013.9,717.9 3002.2,725.8 3016.3,726.9"/>
<path d="M2925.1,527.0C2889.8,542.0 2854.6,557.0 2819.3,572.1"/>
<polygon points="2817.5,567.8 2807.1,577.3 2821.2,576.4"/>
<path d="M2868.2,522.0C2778.9,529.9 2689.5,537.9 2600.0,545.0C2496.4,553.3 2392.5,557.7 2289.0,567.5C2251.6,571.0 2214.4,577.0 2177.3,582.7"/>
<polygon points="2176.6,578.1 2164.1,584.7 2178.0,587.3"/>
<path d="M2954.2,527.0C2954.1,547.6 2954.0,568.3 2954.0,589.0C2954.0,613.9 2953.9,638.8 2954.0,663.8C2954.1,680.0 2954.2,696.2 2954.3,712.5"/>
<polygon points="2949.6,712.5 2954.4,725.8 2959.0,712.4"/>
<path d="M2892.0,412.5C2892.3,404.3 2893.5,396.2 2893.0,388.0C2892.7,383.5 2892.1,379.1 2891.3,374.6"/>
<polygon points="2895.9,373.8 2889.0,361.5 2886.7,375.4"/>
<path d="M3243.0,419.5C3148.0,401.0 3053.1,382.5 2958.1,364.0"/>
<polygon points="2959.0,359.5 2945.0,361.5 2957.2,368.6"/>
<path d="M3301.6,444.5C3310.2,459.8 3318.8,475.1 3327.5,490.4"/>
<polygon points="3323.4,492.7 3334.0,502.0 3331.5,488.1"/>
<path d="M2747.0,419.5C2782.0,402.1 2817.0,384.8 2852.1,367.4"/>
<polygon points="2854.1,371.6 2864.0,361.5 2850.0,363.2"/>
<path d="M2676.7,279.0C2609.6,297.7 2542.5,316.5 2475.4,335.3"/>
<polygon points="2474.2,330.8 2462.6,338.9 2476.7,339.8"/>
<path d="M2708.9,279.0C2693.9,294.3 2678.8,309.5 2664.0,325.0C2656.5,332.8 2647.5,339.6 2642.0,349.0C2632.6,365.0 2625.7,382.4 2620.0,400.0C2616.7,410.3 2614.6,421.2 2615.0,432.0C2615.3,441.6 2615.9,452.5 2622.0,460.0C2628.7,468.2 2639.8,472.2 2650.0,475.0C2666.2,479.4 2683.2,480.7 2700.0,481.0C2716.7,481.3 2733.3,477.4 2750.0,477.0C2760.0,476.7 2770.6,475.6 2780.0,479.0C2788.0,481.9 2795.1,488.0 2800.0,495.0C2803.9,500.5 2805.0,507.8 2805.0,514.5C2805.0,526.5 2803.8,538.7 2800.0,550.0C2798.2,555.2 2795.9,560.1 2793.3,565.0"/>
<polygon points="2789.3,562.7 2786.7,576.5 2797.4,567.3"/>
<path d="M2703.3,279.0C2684.4,292.1 2665.4,305.1 2647.0,319.0C2634.7,328.3 2622.5,337.8 2612.0,349.0C2600.1,361.6 2590.6,376.3 2580.0,390.0C2569.3,403.9 2560.9,420.0 2548.0,432.0C2532.9,446.0 2515.6,458.1 2497.0,467.0C2481.4,474.4 2463.8,476.3 2447.0,480.0C2427.8,484.3 2407.8,485.1 2389.0,491.0C2371.2,496.6 2355.0,506.7 2338.0,514.5C2308.7,528.0 2280.3,543.9 2250.0,555.0C2226.1,563.8 2201.5,570.5 2176.9,577.2"/>
<polygon points="2175.7,572.7 2164.1,580.7 2178.2,581.7"/>
<path d="M2775.0,279.0C2853.7,297.1 2932.5,315.3 3011.2,333.5"/>
<polygon points="3010.2,338.1 3024.2,336.5 3012.3,329.0"/>
<path d="M2745.3,279.0C2778.6,296.1 2811.9,313.3 2845.2,330.4"/>
<polygon points="2843.0,334.6 2857.0,336.5 2847.3,326.3"/>
</g>
<g class="n">
<rect x="2388.57" y="6.90" width="198.67" height="39.10" fill="#bfbfbf" stroke="#000"/>
<text x="2487.90" y="22.35" textLength="174.3" lengthAdjust="spacingAndGlyphs">GaudiCoreSvc/src/JobOptions</text>
<text x="2487.90" y="36.55" textLength="115.9" lengthAdjust="spacingAndGlyphs">Svc/SvcCatalog.cpp</text>
<rect x="2269.08" y="96.85" width="101.33" height="24.90" fill="#fff" stroke="#000"/>
<text x="2319.75" y="112.80" textLength="77.1" lengthAdjust="spacingAndGlyphs">SvcCatalog.h</text>
<rect x="2464.60" y="96.85" width="172.00" height="24.90" fill="#fff" stroke="#bfbfbf"/>
<text x="2550.60" y="112.80" textLength="149.1" lengthAdjust="spacingAndGlyphs">boost/algorithm/string.hpp</text>
<rect x="2811.20" y="171.45" width="156.00" height="24.90" fill="#fff" stroke="#000"/>
<text x="2889.20" y="187.40" textLength="134.4" lengthAdjust="spacingAndGlyphs">GaudiKernel/Property.h</text>
<rect x="1467.25" y="254.05" width="164.00" height="24.90" fill="#fff" stroke="#000"/>
<text x="1549.25" y="270.00" textLength="141.9" lengthAdjust="spacingAndGlyphs">GaudiKernel/ToStream.h</text>
<rect x="2537.77" y="254.05" width="78.67" height="24.90" fill="#fff" stroke="#bfbfbf"/>
<text x="2577.10" y="270.00" textLength="55.5" lengthAdjust="spacingAndGlyphs">stdexcept</text>
<rect x="2641.10" y="254.05" width="160.00" height="24.90" fill="#fff" stroke="#000"/>
<text x="2721.10" y="270.00" textLength="138.0" lengthAdjust="spacingAndGlyphs">GaudiKernel/IProperty.h</text>
<rect x="2826.53" y="246.95" width="125.33" height="39.10" fill="#fff" stroke="#bfbfbf"/>
<text x="2889.20" y="262.40" textLength="100.1" lengthAdjust="spacingAndGlyphs">boost/utility/string</text>
<text x="2889.20" y="276.60" textLength="47.6" lengthAdjust="spacingAndGlyphs">_ref.hpp</text>
<rect x="2975.67" y="254.05" width="154.67" height="24.90" fill="#fff" stroke="#000"/>
<text x="3053.00" y="270.00" textLength="131.1" lengthAdjust="spacingAndGlyphs">GaudiKernel/SmartIF.h</text>
<rect x="703.17" y="336.55" width="182.67" height="24.90" fill="#fff" stroke="#000"/>
<text x="794.50" y="352.50" textLength="159.9" lengthAdjust="spacingAndGlyphs">GaudiKernel/SerializeSTL.h</text>
<rect x="1320.92" y="336.55" width="170.67" height="24.90" fill="#fff" stroke="#000"/>
<text x="1406.25" y="352.50" textLength="148.4" lengthAdjust="spacingAndGlyphs">GaudiKernel/VectorMap.h</text>
<rect x="1515.92" y="336.55" width="66.67" height="24.90" fill="#fff" stroke="#bfbfbf"/>
<text x="1549.25" y="352.50" textLength="45.4" lengthAdjust="spacingAndGlyphs">iomanip</text>
<rect x="2390.60" y="336.55" width="72.00" height="24.90" fill="#fff" stroke="#bfbfbf"/>
<text x="2426.60" y="352.50" textLength="49.7" lengthAdjust="spacingAndGlyphs">iostream</text>
<rect x="2799.87" y="336.55" width="162.67" height="24.90" fill="#fff" stroke="#000"/>
<text x="2881.20" y="352.50" textLength="140.4" lengthAdjust="spacingAndGlyphs">GaudiKernel/IInterface.h</text>
<rect x="2986.77" y="336.55" width="182.67" height="24.90" fill="#fff" stroke="#000"/>
<text x="3078.10" y="352.50" textLength="159.9" lengthAdjust="spacingAndGlyphs">GaudiKernel/PropertyFwd.h</text>
<rect x="3194.43" y="336.55" width="69.33" height="24.90" fill="#fff" stroke="#bfbfbf"/>
<text x="3229.10" y="352.50" textLength="46.1" lengthAdjust="spacingAndGlyphs">sstream</text>
<rect x="620.17" y="419.55" width="206.67" height="24.90" fill="#fff" stroke="#000"/>
<text x="723.50" y="435.50" textLength="184.3" lengthAdjust="spacingAndGlyphs">GaudiKernel/SerializeSTLFwd.h</text>
<rect x="1003.92" y="419.55" width="50.67" height="24.90" fill="#fff" stroke="#bfbfbf"/>
<text x="1029.25" y="435.50" textLength="29.5" lengthAdjust="spacingAndGlyphs">array</text>
<rect x="1484.58" y="419.55" width="97.33" height="24.90" fill="#fff" stroke="#bfbfbf"/>
<text x="1533.25" y="435.50" textLength="73.4" lengthAdjust="spacingAndGlyphs">initializer_list</text>
<rect x="1809.75" y="419.55" width="164.00" height="24.90" fill="#fff" stroke="#000"/>
<text x="1891.75" y="435.50" textLength="141.6" lengthAdjust="spacingAndGlyphs">GaudiKernel/StringKey.h</text>
<rect x="1999.33" y="419.55" width="153.33" height="24.90" fill="#fff" stroke="#000"/>
<text x="2076.00" y="435.50" textLength="131.1" lengthAdjust="spacingAndGlyphs">GaudiKernel/Parsers.h</text>
<rect x="2430.47" y="419.55" width="82.67" height="24.90" fill="#fff" stroke="#bfbfbf"/>
<text x="2471.80" y="435.50" textLength="59.8" lengthAdjust="spacingAndGlyphs">type_traits</text>
<rect x="2638.17" y="419.55" width="154.67" height="24.90" fill="#fff" stroke="#000"/>
<text x="2715.50" y="435.50" textLength="131.8" lengthAdjust="spacingAndGlyphs">GaudiKernel/extends.h</text>
<rect x="2816.90" y="412.45" width="136.00" height="39.10" fill="#fff" stroke="#000"/>
<text x="2884.90" y="427.90" textLength="114.5" lengthAdjust="spacingAndGlyphs">GaudiKernel/extend</text>
<text x="2884.90" y="442.10" textLength="74.2" lengthAdjust="spacingAndGlyphs">_interfaces.h</text>
<rect x="2977.13" y="419.55" width="153.33" height="24.90" fill="#fff" stroke="#000"/>
<text x="3053.80" y="435.50" textLength="129.6" lengthAdjust="spacingAndGlyphs">GaudiKernel/System.h</text>
<rect x="3207.27" y="419.55" width="174.67" height="24.90" fill="#fff" stroke="#000"/>
<text x="3294.60" y="435.50" textLength="152.7" lengthAdjust="spacingAndGlyphs">GaudiKernel/implements.h</text>
<rect x="279.00" y="502.05" width="164.00" height="24.90" fill="#fff" stroke="#000"/>
<text x="361.00" y="518.00" textLength="141.9" lengthAdjust="spacingAndGlyphs">GaudiKernel/HashMap.h</text>
<rect x="980.42" y="502.05" width="38.67" height="24.90" fill="#fff" stroke="#bfbfbf"/>
<text x="999.75" y="518.00" textLength="15.8" lengthAdjust="spacingAndGlyphs">list</text>
<rect x="1353.58" y="502.05" width="177.33" height="24.90" fill="#fff" stroke="#000"/>
<text x="1442.25" y="518.00" textLength="154.1" lengthAdjust="spacingAndGlyphs">GaudiKernel/StatusCode.h</text>
<rect x="1555.92" y="502.05" width="74.67" height="24.90" fill="#fff" stroke="#bfbfbf"/>
<text x="1593.25" y="518.00" textLength="53.3" lengthAdjust="spacingAndGlyphs">algorithm</text>
<rect x="1756.67" y="502.05" width="78.67" height="24.90" fill="#fff" stroke="#bfbfbf"/>
<text x="1796.00" y="518.00" textLength="55.5" lengthAdjust="spacingAndGlyphs">functional</text>
<rect x="2214.25" y="502.05" width="40.00" height="24.90" fill="#fff" stroke="#bfbfbf"/>
<text x="2234.25" y="518.00" textLength="17.3" lengthAdjust="spacingAndGlyphs">set</text>
<rect x="2430.50" y="502.05" width="160.00" height="24.90" fill="#fff" stroke="#000"/>
<text x="2510.50" y="518.00" textLength="136.1" lengthAdjust="spacingAndGlyphs">GaudiKernel/HistoDef.h</text>
<rect x="2868.25" y="502.05" width="172.00" height="24.90" fill="#fff" stroke="#000"/>
<text x="2954.25" y="518.00" textLength="150.5" lengthAdjust="spacingAndGlyphs">GaudiKernel/ModuleInfo.h</text>
<rect x="3217.75" y="502.05" width="68.00" height="24.90" fill="#fff" stroke="#bfbfbf"/>
<text x="3251.75" y="518.00" textLength="45.4" lengthAdjust="spacingAndGlyphs">typeinfo</text>
<rect x="3310.33" y="502.05" width="61.33" height="24.90" fill="#fff" stroke="#bfbfbf"/>
<text x="3341.00" y="518.00" textLength="38.2" lengthAdjust="spacingAndGlyphs">atomic</text>
<rect x="14.42" y="576.55" width="138.67" height="24.90" fill="#fff" stroke="#f00"/>
<text x="83.75" y="592.50" textLength="116.7" lengthAdjust="spacingAndGlyphs">GaudiKernel/Hash.h</text>
<rect x="305.92" y="576.55" width="110.67" height="24.90" fill="#fff" stroke="#bfbfbf"/>
<text x="361.25" y="592.50" textLength="91.5" lengthAdjust="spacingAndGlyphs">unordered_map</text>
<rect x="670.33" y="576.55" width="133.33" height="24.90" fill="#fff" stroke="#000"/>
<text x="737.00" y="592.50" textLength="111.6" lengthAdjust="spacingAndGlyphs">GaudiKernel/Map.h</text>
<rect x="965.08" y="576.55" width="53.33" height="24.90" fill="#fff" stroke="#bfbfbf"/>
<text x="991.75" y="592.50" textLength="29.5" lengthAdjust="spacingAndGlyphs">utility</text>
<rect x="1179.83" y="576.55" width="69.33" height="24.90" fill="#fff" stroke="#bfbfbf"/>
<text x="1214.50" y="592.50" textLength="46.8" lengthAdjust="spacingAndGlyphs">ostream</text>
<rect x="2105.42" y="576.55" width="58.67" height="24.90" fill="#fff" stroke="#bfbfbf"/>
<text x="2134.75" y="592.50" textLength="35.3" lengthAdjust="spacingAndGlyphs">vector</text>
<rect x="2300.50" y="576.55" width="60.00" height="24.90" fill="#fff" stroke="#bfbfbf"/>
<text x="2330.50" y="592.50" textLength="36.7" lengthAdjust="spacingAndGlyphs">iosfwd</text>
<rect x="2752.42" y="576.55" width="54.67" height="24.90" fill="#fff" stroke="#bfbfbf"/>
<text x="2779.75" y="592.50" textLength="31.7" lengthAdjust="spacingAndGlyphs">string</text>
<rect x="4.50" y="651.30" width="68.00" height="24.90" fill="#fff" stroke="#bfbfbf"/>
<text x="38.50" y="667.25" textLength="46.1" lengthAdjust="spacingAndGlyphs">numeric</text>
<rect x="96.58" y="651.30" width="65.33" height="24.90" fill="#fff" stroke="#bfbfbf"/>
<text x="129.25" y="667.25" textLength="41.8" lengthAdjust="spacingAndGlyphs">cstddef</text>
<rect x="533.92" y="651.30" width="46.67" height="24.90" fill="#fff" stroke="#bfbfbf"/>
<text x="557.25" y="667.25" textLength="25.2" lengthAdjust="spacingAndGlyphs">map</text>
<rect x="1234.67" y="651.30" width="162.67" height="24.90" fill="#fff" stroke="#000"/>
<text x="1316.00" y="667.25" textLength="141.2" lengthAdjust="spacingAndGlyphs">GaudiKernel/MapBase.h</text>
<rect x="3166.67" y="651.30" width="146.67" height="24.90" fill="#fff" stroke="#f00"/>
<text x="3240.00" y="667.25" textLength="124.8" lengthAdjust="spacingAndGlyphs">GaudiKernel/Timing.h</text>
<rect x="2881.83" y="725.80" width="145.33" height="24.90" fill="#fff" stroke="#000"/>
<text x="2954.50" y="741.75" textLength="123.9" lengthAdjust="spacingAndGlyphs">GaudiKernel/Kernel.h</text>
</g></svg></body></html>
